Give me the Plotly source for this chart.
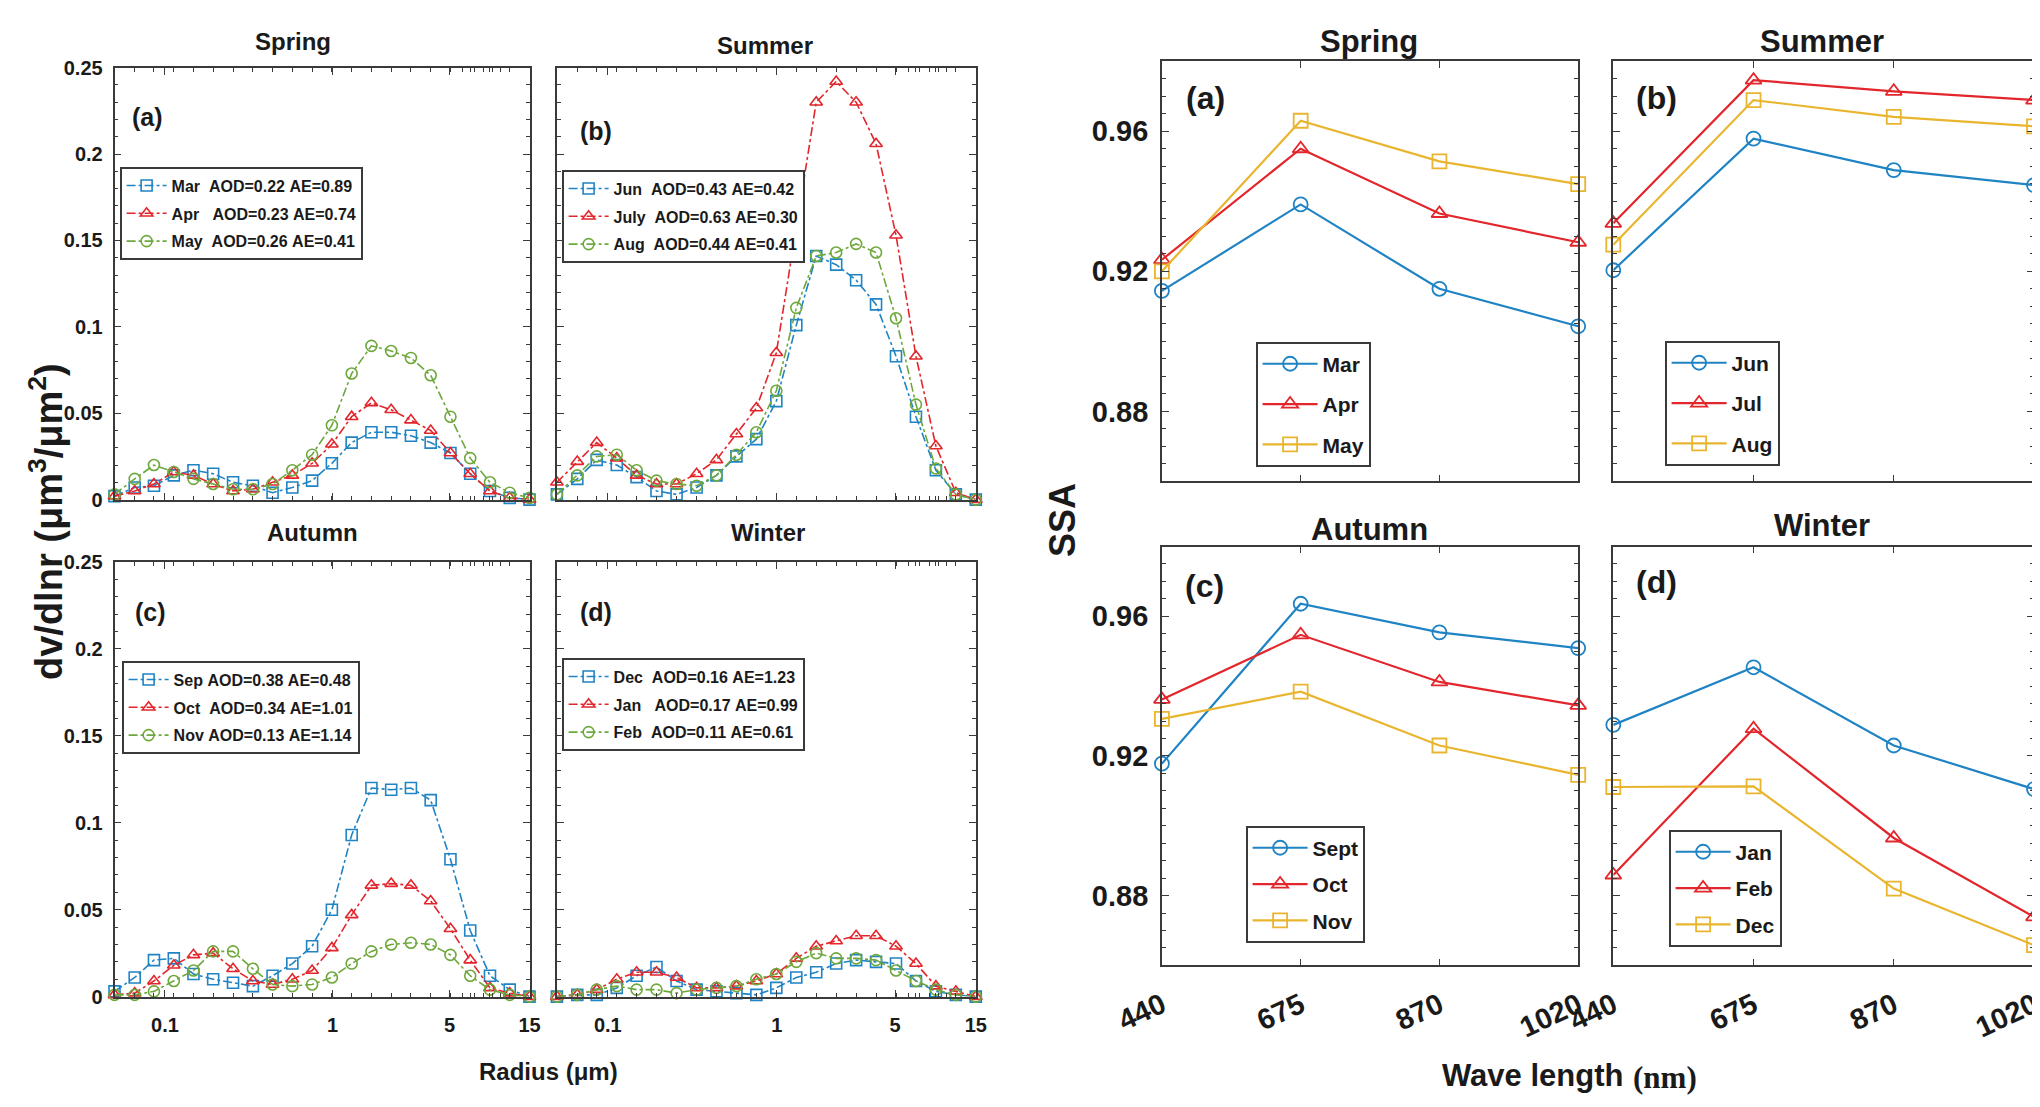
import math
import plotly.graph_objects as go

W, H = 2040, 1107

# ---------------- data: volume size distribution ----------------
radius = [0.050, 0.066, 0.086, 0.113, 0.148, 0.194, 0.255, 0.335, 0.439, 0.576, 0.756,
          0.992, 1.302, 1.708, 2.241, 2.940, 3.857, 5.061, 6.641, 8.713, 11.432, 15.000]

mar_dv = [0.002, 0.007, 0.008, 0.014, 0.017, 0.015, 0.010, 0.008, 0.004, 0.007, 0.011,
          0.021, 0.033, 0.039, 0.039, 0.037, 0.033, 0.027, 0.015, 0.005, 0.001, 0.000]
apr_dv = [0.002, 0.005, 0.009, 0.016, 0.014, 0.009, 0.005, 0.006, 0.010, 0.014, 0.021,
          0.032, 0.048, 0.056, 0.052, 0.046, 0.040, 0.027, 0.015, 0.005, 0.001, 0.000]
may_dv = [0.003, 0.012, 0.020, 0.016, 0.012, 0.009, 0.006, 0.006, 0.009, 0.017, 0.026,
          0.043, 0.073, 0.089, 0.086, 0.082, 0.072, 0.048, 0.024, 0.010, 0.004, 0.001]

jun_dv = [0.003, 0.012, 0.023, 0.020, 0.013, 0.005, 0.003, 0.007, 0.014, 0.025, 0.035,
          0.057, 0.101, 0.141, 0.136, 0.127, 0.113, 0.083, 0.048, 0.017, 0.003, 0.000]
jul_dv = [0.010, 0.022, 0.033, 0.024, 0.014, 0.009, 0.009, 0.015, 0.023, 0.038, 0.053,
          0.085, 0.157, 0.230, 0.242, 0.230, 0.206, 0.153, 0.083, 0.031, 0.004, 0.000]
aug_dv = [0.003, 0.014, 0.025, 0.026, 0.017, 0.011, 0.009, 0.008, 0.014, 0.026, 0.039,
          0.063, 0.111, 0.141, 0.143, 0.148, 0.143, 0.105, 0.055, 0.018, 0.003, 0.000]

sep_dv = [0.003, 0.011, 0.021, 0.022, 0.013, 0.010, 0.008, 0.006, 0.012, 0.019, 0.029,
          0.050, 0.093, 0.120, 0.119, 0.120, 0.113, 0.079, 0.038, 0.012, 0.004, 0.000]
oct_dv = [0.001, 0.002, 0.009, 0.018, 0.024, 0.025, 0.016, 0.009, 0.007, 0.010, 0.015,
          0.028, 0.047, 0.064, 0.065, 0.064, 0.055, 0.039, 0.021, 0.005, 0.002, 0.000]
nov_dv = [0.001, 0.001, 0.003, 0.009, 0.015, 0.026, 0.026, 0.016, 0.007, 0.006, 0.007,
          0.011, 0.019, 0.026, 0.030, 0.031, 0.030, 0.024, 0.012, 0.004, 0.001, 0.000]

dec_dv = [0.000, 0.001, 0.001, 0.005, 0.012, 0.017, 0.009, 0.004, 0.003, 0.002, 0.001,
          0.005, 0.011, 0.014, 0.019, 0.021, 0.020, 0.019, 0.009, 0.003, 0.001, 0.000]
jan_dv = [0.000, 0.001, 0.004, 0.010, 0.014, 0.014, 0.011, 0.005, 0.005, 0.006, 0.009,
          0.013, 0.022, 0.029, 0.032, 0.035, 0.035, 0.029, 0.019, 0.006, 0.003, 0.000]
feb_dv = [0.000, 0.001, 0.004, 0.006, 0.004, 0.004, 0.002, 0.004, 0.005, 0.006, 0.010,
          0.013, 0.020, 0.025, 0.022, 0.022, 0.021, 0.015, 0.009, 0.004, 0.001, 0.000]

spring_psd_names = ["Mar  AOD=0.22 AE=0.89", "Apr   AOD=0.23 AE=0.74", "May  AOD=0.26 AE=0.41"]
summer_psd_names = ["Jun  AOD=0.43 AE=0.42", "July  AOD=0.63 AE=0.30", "Aug  AOD=0.44 AE=0.41"]
autumn_psd_names = ["Sep AOD=0.38 AE=0.48", "Oct  AOD=0.34 AE=1.01", "Nov AOD=0.13 AE=1.14"]
winter_psd_names = ["Dec  AOD=0.16 AE=1.23", "Jan   AOD=0.17 AE=0.99", "Feb  AOD=0.11 AE=0.61"]

radius_ticks = [0.1, 1, 5, 15]
radius_ticktext = ["0.1", "1", "5", "15"]

# ---------------- data: SSA ----------------
wavelength = ["440", "675", "870", "1020"]

mar_ssa = [0.9144, 0.9391, 0.9150, 0.9043]
apr_ssa = [0.9233, 0.9550, 0.9365, 0.9283]
may_ssa = [0.9200, 0.9630, 0.9514, 0.9449]

jun_ssa = [0.9203, 0.9579, 0.9489, 0.9446]
jul_ssa = [0.9337, 0.9746, 0.9714, 0.9689]
aug_ssa = [0.9276, 0.9689, 0.9641, 0.9614]

sept_ssa = [0.9178, 0.9636, 0.9554, 0.9509]
oct_ssa = [0.9362, 0.9547, 0.9412, 0.9345]
nov_ssa = [0.9306, 0.9384, 0.9230, 0.9146]

jan_ssa = [0.9289, 0.9454, 0.9230, 0.9105]
feb_ssa = [0.8859, 0.9278, 0.8965, 0.8739]
dec_ssa = [0.9111, 0.9113, 0.8820, 0.8658]

ssa_ticks = [0.88, 0.92, 0.96]

# ---------------- styling ----------------
FONT = "Liberation Sans, Arial, sans-serif"
SERIF = "Liberation Serif, DejaVu Serif, serif"
BLUE = "#1f83c4"
RED = "#e3262c"
GREEN = "#6ea83c"
YELLOW = "#e9b52e"
AX = "#3a3a3a"
OFF = 8  # page body margin of the html document


def px(x):
    return (x - OFF) / W


def py(y):
    return 1 - (y - OFF) / H


# panel boxes in window pixels (left, right, top, bottom)
boxes = [
    (114.5, 529.5, 67.7, 499.6),   # psd spring
    (556.9, 975.8, 67.7, 499.6),   # psd summer
    (114.5, 529.5, 562.0, 996.6),  # psd autumn
    (556.9, 975.8, 562.0, 996.6),  # psd winter
    (1161.9, 1578.2, 61.2, 481.4),  # ssa spring
    (1613.3, 2034.0, 61.2, 481.4),  # ssa summer
    (1161.9, 1578.2, 546.5, 965.4),  # ssa autumn
    (1613.3, 2034.0, 546.5, 965.4),  # ssa winter
]

fig = go.Figure()

psd_sets = [
    [(mar_dv, BLUE, "square-open"), (apr_dv, RED, "triangle-up-open"), (may_dv, GREEN, "circle-open")],
    [(jun_dv, BLUE, "square-open"), (jul_dv, RED, "triangle-up-open"), (aug_dv, GREEN, "circle-open")],
    [(sep_dv, BLUE, "square-open"), (oct_dv, RED, "triangle-up-open"), (nov_dv, GREEN, "circle-open")],
    [(dec_dv, BLUE, "square-open"), (jan_dv, RED, "triangle-up-open"), (feb_dv, GREEN, "circle-open")],
]
psd_names = [spring_psd_names, summer_psd_names, autumn_psd_names, winter_psd_names]

for i, (series, names) in enumerate(zip(psd_sets, psd_names)):
    n = i + 1
    for j, ((vals, col, sym), name) in enumerate(zip(series, names)):
        fig.add_trace(go.Scatter(
            x=radius, y=vals, mode="lines+markers",
            name=name.replace(" ", "\u00a0"),
            line=dict(color=col, width=1.6, dash="dashdot"),
            marker=dict(symbol=sym, size=11, color=col, line=dict(width=1.6, color=col)),
            xaxis=f"x{n}", yaxis=f"y{n}", cliponaxis=False,
            legend=f"legend{n}" if n > 1 else "legend",
            legendgroup=f"g{n}_{j}",
        ))

ssa_sets = [
    [(mar_ssa, "Mar", BLUE, "circle-open"), (apr_ssa, "Apr", RED, "triangle-up-open"), (may_ssa, "May", YELLOW, "square-open")],
    [(jun_ssa, "Jun", BLUE, "circle-open"), (jul_ssa, "Jul", RED, "triangle-up-open"), (aug_ssa, "Aug", YELLOW, "square-open")],
    [(sept_ssa, "Sept", BLUE, "circle-open"), (oct_ssa, "Oct", RED, "triangle-up-open"), (nov_ssa, "Nov", YELLOW, "square-open")],
    [(jan_ssa, "Jan", BLUE, "circle-open"), (feb_ssa, "Feb", RED, "triangle-up-open"), (dec_ssa, "Dec", YELLOW, "square-open")],
]
for i, series in enumerate(ssa_sets):
    n = i + 5
    for j, (vals, name, col, sym) in enumerate(series):
        fig.add_trace(go.Scatter(
            x=wavelength, y=vals, mode="lines+markers", name=name,
            line=dict(color=col, width=2.2),
            marker=dict(symbol=sym, size=14, color=col, line=dict(width=1.8, color=col)),
            xaxis=f"x{n}", yaxis=f"y{n}", cliponaxis=False,
            legend=f"legend{n}", legendgroup=f"g{n}_{j}",
        ))

common_axis = dict(
    showline=True, linecolor=AX, linewidth=1.6, mirror="allticks",
    ticks="inside", ticklen=7, tickwidth=1.3, tickcolor=AX,
    showgrid=False, zeroline=False, automargin=False,
)

layout = dict(
    width=W, height=H, margin=dict(l=0, r=0, t=0, b=0, pad=0, autoexpand=False),
    paper_bgcolor="white", plot_bgcolor="white",
    font=dict(family=FONT, size=20, color="#1a1a1a", weight="bold"),
    showlegend=True,
)

for k, (l, r, t, b) in enumerate(boxes):
    n = k + 1
    xa = dict(common_axis, domain=[px(l), px(r)], anchor=f"y{n}")
    ya = dict(common_axis, domain=[py(b), py(t)], anchor=f"x{n}")
    if n <= 4:
        xa.update(type="log", range=[math.log10(radius[0]), math.log10(radius[-1])],
                  tickmode="array", tickvals=radius_ticks, ticktext=radius_ticktext,
                  showticklabels=(n >= 3), ticklabelstandoff=10,
                  tickfont=dict(size=20, family=FONT, weight="bold"),
                  minor=dict(tickvals=radius + [6, 7, 8, 9, 10], ticks="inside", ticklen=4,
                             tickcolor=AX, tickwidth=1))
        ya.update(range=[0, 0.25], dtick=0.05, tick0=0,
                  showticklabels=(n in (1, 3)), ticklabelstandoff=6,
                  tickfont=dict(size=20, family=FONT, weight="bold"),
                  minor=dict(dtick=0.01, ticks="inside", ticklen=4, tickcolor=AX, tickwidth=1))
    else:
        xa.update(type="category", range=[0, len(wavelength) - 1],
                  showticklabels=(n >= 7), tickangle=-25, ticklabelstandoff=10,
                  tickfont=dict(size=29, family=FONT, weight="bold"))
        ya.update(range=[0.86, 0.98], tickmode="array", tickvals=ssa_ticks,
                  ticktext=[f"{v:.2f}" for v in ssa_ticks],
                  showticklabels=(n in (5, 7)), ticklabelstandoff=6,
                  tickfont=dict(size=29, family=FONT, weight="bold"),
                  minor=dict(dtick=0.005, ticks="inside", ticklen=4, tickcolor=AX, tickwidth=1))
    layout[f"xaxis{n}"] = xa
    layout[f"yaxis{n}"] = ya

# legends (left, top in window pixels, font size, gap between entries)
legend_pos = [
    (120, 167, 16, 4), (562, 170, 16, 4), (122, 661, 16, 4), (562, 658, 16, 4),
    (1256, 342, 21, 10), (1665, 341, 21, 10), (1246, 826, 21, 6), (1669, 830, 21, 6),
]
for k, (lx, ty, fs, gap) in enumerate(legend_pos):
    key = "legend" if k == 0 else f"legend{k + 1}"
    layout[key] = dict(
        x=px(lx), y=py(ty), xanchor="left", yanchor="top",
        bgcolor="white", bordercolor=AX, borderwidth=1.6,
        font=dict(size=fs, family=FONT, weight="bold", color="#1a1a1a"),
        tracegroupgap=gap, itemwidth=40 if k < 4 else 55,
    )

fig.update_layout(**layout)

annots = []


def add_text(text, x, y, size, angle=0, family=FONT, xanchor="center", yanchor="middle"):
    annots.append(dict(text=text, x=px(x), y=py(y), xref="paper", yref="paper",
                       showarrow=False, textangle=angle, xanchor=xanchor, yanchor=yanchor,
                       font=dict(size=size, family=family, weight="bold", color="#1a1a1a")))


# panel titles
for txt, x, y, s in [("Spring", 293, 42, 24), ("Summer", 765, 45, 24),
                     ("Autumn", 312, 532, 24), ("Winter", 768, 532, 24),
                     ("Spring", 1369, 42, 31), ("Summer", 1822, 42, 31),
                     ("Autumn", 1369, 529, 31), ("Winter", 1822, 525, 31)]:
    add_text(txt, x, y, s)

# panel letters
for txt, x, y, s in [("(a)", 147, 117, 25), ("(b)", 596, 131, 25),
                     ("(c)", 150, 612, 25), ("(d)", 596, 612, 25),
                     ("(a)", 1205, 98, 32), ("(b)", 1656, 98, 32),
                     ("(c)", 1204, 586, 32), ("(d)", 1656, 582, 32)]:
    add_text(txt, x, y, s)

# axis titles
add_text("dv/dlnr (μm<sup>3</sup>/μm<sup>2</sup>)", 46, 522, 38, angle=-90)
add_text("Radius (μm)", 548, 1071, 24)
add_text("SSA", 1063, 520, 36, angle=-90)
add_text("Wave length", 1625, 1075, 31, xanchor="right")
add_text("(nm)", 1631, 1077, 31, family=SERIF, xanchor="left")

fig.update_layout(annotations=annots)

fig.write_html("out.html")
